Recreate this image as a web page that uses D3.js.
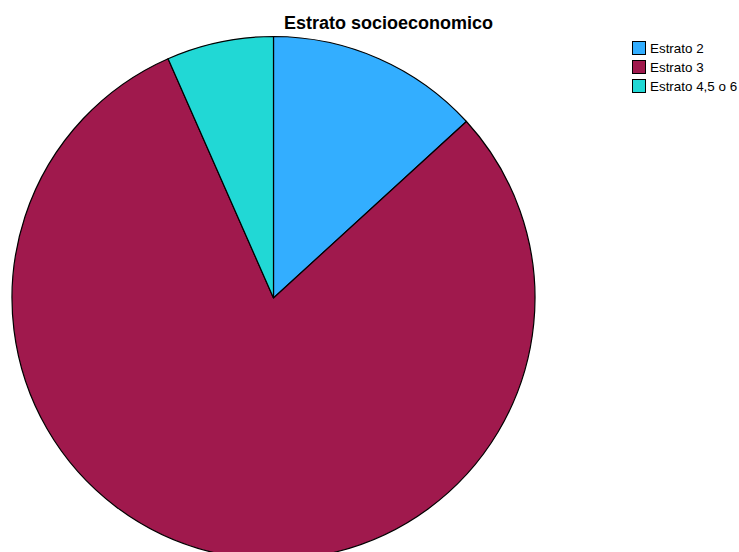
<!DOCTYPE html>
<html><head><meta charset="utf-8">
<script src="https://cdn.jsdelivr.net/npm/d3@7"></script>
<style>body{margin:0;background:#fff}svg{display:block}</style>
</head><body>
<svg id="c" width="739" height="552"></svg>
<script>
const categories = ["Estrato 2", "Estrato 3", "Estrato 4,5 o 6"];
const values = [14, 85, 7];
const colors = ["#33AEFF", "#A0194D", "#21D8D5"];
const title = "Estrato socioeconomico";

const svg = d3.select("#c");
const font = "Arial, 'Liberation Sans', sans-serif";
svg.append("text").attr("x", 388.5).attr("y", 29).attr("text-anchor", "middle")
  .attr("font-family", font).attr("font-weight", "bold").attr("font-size", 18)
  .attr("fill", "#000").text(title);

const pie = d3.pie().sort(null).value(d => d)(values);
const arc = d3.arc().innerRadius(0).outerRadius(261.5);
const g = svg.append("g").attr("transform", "translate(273.5,298)");
g.selectAll("path").data(pie).join("path")
  .attr("d", arc).attr("fill", (d, i) => colors[i])
  .attr("stroke", "#000").attr("stroke-width", 1.2).attr("stroke-linejoin", "round");

const lg = svg.append("g").attr("transform", "translate(632,41)");
categories.forEach((c, i) => {
  const r = lg.append("g").attr("transform", `translate(0,${i * 19})`);
  r.append("rect").attr("x", 0.5).attr("y", 0.5).attr("width", 13).attr("height", 13)
    .attr("fill", colors[i]).attr("stroke", "#000").attr("stroke-width", 1);
  r.append("text").attr("x", 18).attr("y", 11.5).attr("font-family", font)
    .attr("font-size", 13.4).attr("fill", "#000").text(c);
});
</script>
</body></html>
